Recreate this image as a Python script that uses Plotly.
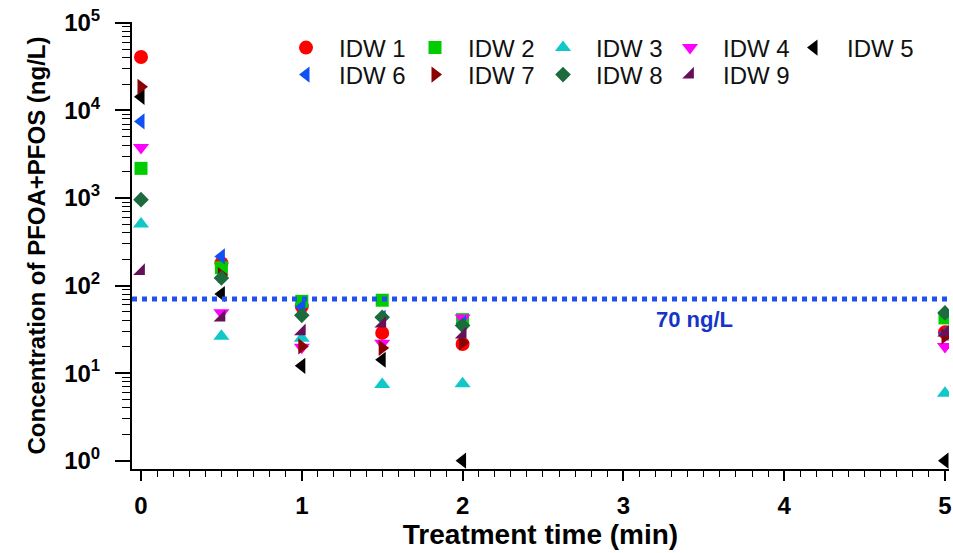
import plotly.graph_objects as go

times = [0, 0.5, 1, 1.5, 2, 5]
series_names = ["IDW 1", "IDW 2", "IDW 3", "IDW 4", "IDW 5", "IDW 6", "IDW 7", "IDW 8", "IDW 9"]
idw1 = [40700, 180, 58, 28.8, 21.5, 29.2]
idw2 = [2180, 160, 66, 68, 40.8, 42.7]
idw3 = [504, 26.3, 25, 7.4, 7.55, 5.9]
idw4 = [3780, 49, 19.7, 22, 42.7, 20.2]
idw5 = [14300, 80, 12.1, 14.2, 1.0, 1.0]
idw6 = [7490, 215, 57, 42.7, 36.7, 28.5]
idw7 = [18650, 132, 20.2, 19.4, 22.4, 26.3]
idw8 = [957, 122, 45.7, 43.4, 34.9, 48.7]
idw9 = [146, 43, 30, 36.7, 27.5, 29.0]
values = [idw1, idw2, idw3, idw4, idw5, idw6, idw7, idw8, idw9]

limit_value = 70
limit_label = "70 ng/L"

symbols = ["circle", "square", "triangle-up", "triangle-down", "triangle-left",
           "triangle-left", "triangle-right", "diamond", "triangle-se"]
colors = ["#FF0000", "#00CC00", "#10C8C8", "#FF00FF", "#000000",
          "#1050F5", "#8B0000", "#1B6B3C", "#66105A"]
sizes = [14, 13, 14, 14, 14, 14, 14, 12, 13]

# legend grid positions (marker centre, px in the 953x553 canvas)
legend_cols_px = [306, 435, 563, 690, 814]
legend_rows_px = [48, 75]

FONT = "Liberation Sans, Arial, sans-serif"
W, H = 953, 553
ML, MR, MT, MB = 132, 4, 22, 84
PW, PH = W - ML - MR, H - MT - MB
ITEMW = 56

fig = go.Figure()
layout_legends = {}
for i, (name, vals) in enumerate(zip(series_names, values)):
    key = "legend" if i == 0 else "legend%d" % (i + 1)
    fig.add_trace(go.Scatter(
        x=times, y=vals, mode="markers", name=name,
        marker=dict(symbol=symbols[i], color=colors[i], size=sizes[i], line=dict(width=0)),
        legend=key, cliponaxis=True,
    ))
    cx = legend_cols_px[i % 5]
    cy = legend_rows_px[i // 5]
    layout_legends[key] = dict(
        xref="paper", yref="paper",
        x=(cx - (ITEMW / 2 + 5) - ML) / PW, y=(H - MB - cy) / PH,
        xanchor="left", yanchor="middle",
        orientation="h", itemwidth=ITEMW, bgcolor="rgba(0,0,0,0)", borderwidth=0,
        font=dict(family=FONT, size=24, color="#111"),
    )

fig.add_shape(type="line", xref="paper", x0=0, x1=1, yref="y", y0=limit_value, y1=limit_value,
              line=dict(color="#1F50F0", width=5, dash="dot"))
fig.add_annotation(x=3.44, y=1.61, xref="x", yref="y", text="<b>" + limit_label + "</b>",
                   showarrow=False, font=dict(family=FONT, size=22, color="#1535C8"))

ytickvals = [1, 10, 100, 1000, 10000, 100000]
yticktext = ["<b>10<sup>%d</sup></b>" % k for k in range(6)]
yminor = [m * 10 ** e for e in range(5) for m in range(2, 10)]

fig.update_layout(
    width=W, height=H,
    margin=dict(l=ML, r=MR, t=MT, b=MB, autoexpand=False),
    paper_bgcolor="white", plot_bgcolor="white",
    showlegend=True,
    xaxis=dict(
        range=[-0.056, 5.025], showgrid=False, zeroline=False,
        showline=True, linecolor="black", linewidth=2,
        ticks="outside", ticklen=10, tickwidth=1.5, tickcolor="black",
        tickmode="linear", tick0=0, dtick=1,
        minor=dict(ticks="outside", ticklen=6, tickwidth=1.2, tickcolor="black", dtick=0.1, showgrid=False),
        tickfont=dict(family=FONT, size=24, color="black", weight="bold"),
        ticklabelstandoff=4, ticklabeloverflow="allow", automargin=False,
        title=dict(text="<b>Treatment time (min)</b>", font=dict(family=FONT, size=28, color="black"), standoff=5),
    ),
    yaxis=dict(
        type="log", range=[-0.095, 5.01], showgrid=False, zeroline=False,
        showline=True, linecolor="black", linewidth=2,
        ticks="outside", ticklen=15, tickwidth=1.5, tickcolor="black",
        tickmode="array", tickvals=ytickvals, ticktext=yticktext,
        minor=dict(ticks="outside", ticklen=8, tickwidth=1.2, tickcolor="black",
                   tickmode="array", tickvals=yminor, showgrid=False),
        tickfont=dict(family=FONT, size=24, color="black"),
        ticklabelstandoff=10, automargin=False,
        title=dict(text="<b>Concentration of PFOA+PFOS (ng/L)</b>", font=dict(family=FONT, size=24, color="black"), standoff=12),
    ),
    **layout_legends,
)

fig.write_html("out.html")
